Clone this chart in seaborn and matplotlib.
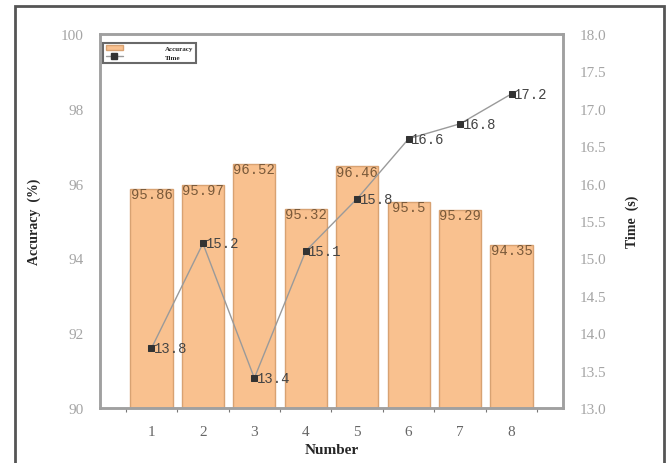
import matplotlib
matplotlib.use("Agg")
import matplotlib.pyplot as plt
import matplotlib.patches as mpatches
from matplotlib.lines import Line2D
import numpy as np
import pandas as pd
import seaborn as sns

# data
numbers = [1, 2, 3, 4, 5, 6, 7, 8]
accuracy = [95.86, 95.97, 96.52, 95.32, 96.46, 95.5, 95.29, 94.35]
acc_labels = ["95.86", "95.97", "96.52", "95.32", "96.46", "95.5", "95.29", "94.35"]
time_s = [13.8, 15.2, 13.4, 15.1, 15.8, 16.6, 16.8, 17.2]
time_labels = ["13.8", "15.2", "13.4", "15.1", "15.8", "16.6", "16.8", "17.2"]
left_ticks = [90, 92, 94, 96, 98, 100]
right_ticks = [13.0, 13.5, 14.0, 14.5, 15.0, 15.5, 16.0, 16.5, 17.0, 17.5, 18.0]

sns.set_theme(style="white")
plt.rcParams["font.family"] = ["Liberation Serif", "DejaVu Serif"]

BAR_COLOR = "#F9C18F"
BAR_EDGE = "#D8A272"
SPINE = "#A0A0A0"
TICK_TXT = "#A5A5A5"
MONO = "Liberation Mono"

df = pd.DataFrame({"Number": numbers, "Accuracy": accuracy, "Time": time_s})

fig = plt.figure(figsize=(6.67, 4.64), dpi=100)
ax = fig.add_axes([0.15, 0.1185, 0.694, 0.806])

sns.barplot(data=df, x="Number", y="Accuracy", native_scale=True, width=0.82,
            color=BAR_COLOR, edgecolor=BAR_EDGE, linewidth=1.0, saturation=1, ax=ax)
ax.set_xlim(0, 9)
ax.set_ylim(90, 100)
ax.set_yticks(left_ticks)
ax.set_xticks(numbers)
ax.set_xticks(np.arange(0.5, 9, 1), minor=True)
ax.tick_params(axis="x", which="major", length=0, pad=12, labelsize=11, labelcolor="#666666")
ax.tick_params(axis="x", which="minor", length=3, width=0.8, color="#777777", direction="out", bottom=True)
ax.tick_params(axis="y", length=0, pad=12, labelsize=11, labelcolor=TICK_TXT)
ax.set_xlabel("Number", fontsize=11, fontweight="bold", labelpad=4)
ax.set_ylabel("Accuracy  (%)", fontsize=10, fontweight="bold", labelpad=14)

for xv, yv, lab in zip(numbers, accuracy, acc_labels):
    ax.text(xv, yv + 0.05, lab, ha="center", va="top", family=MONO,
            fontsize=10, color="#7A5A3A")

ax2 = ax.twinx()
sns.lineplot(data=df, x="Number", y="Time", color="#9A9A9A", linewidth=1.0,
             marker="s", markersize=5, markerfacecolor="#333333",
             markeredgecolor="#333333", ax=ax2)
ax2.set_ylim(13.0, 18.0)
ax2.set_yticks(right_ticks)
ax2.set_yticklabels([f"{t:.1f}" for t in right_ticks])
ax2.tick_params(axis="y", length=0, pad=12, labelsize=11, labelcolor=TICK_TXT)
ax2.set_ylabel("Time  (s)", fontsize=10, fontweight="bold", rotation=90, labelpad=14)
ax2.set_xlabel("")

for xv, yv, lab in zip(numbers, time_s, time_labels):
    ax2.text(xv + 0.05, yv, lab, ha="left", va="center", family=MONO,
             fontsize=10, color="#444444")

for a in (ax, ax2):
    for s in a.spines.values():
        s.set_color(SPINE)
        s.set_linewidth(1.8)

handles = [mpatches.Patch(facecolor=BAR_COLOR, edgecolor=BAR_EDGE),
           Line2D([0], [0], color="#9A9A9A", lw=1, marker="s", markersize=4,
                  markerfacecolor="#333333", markeredgecolor="#333333")]
leg = ax2.legend(handles, ["Accuracy", "Time"], loc="upper left",
                 bbox_to_anchor=(0.003, 0.981), fontsize=5, frameon=True,
                 fancybox=False, handlelength=2.5, borderpad=0.4,
                 handletextpad=6, labelspacing=0.4, borderaxespad=0.2)
leg.get_frame().set_edgecolor("#444444")
leg.get_frame().set_linewidth(1.5)
for t in leg.get_texts():
    t.set_fontweight("bold")

# outer frame around the picture
frame = mpatches.Rectangle((15 / 667, -0.05), 649 / 667, 1.05 - 7 / 464,
                           transform=fig.transFigure, fill=False,
                           edgecolor="#555555", linewidth=2, clip_on=False)
fig.patches.append(frame)

fig.savefig("out.png", dpi=100)
